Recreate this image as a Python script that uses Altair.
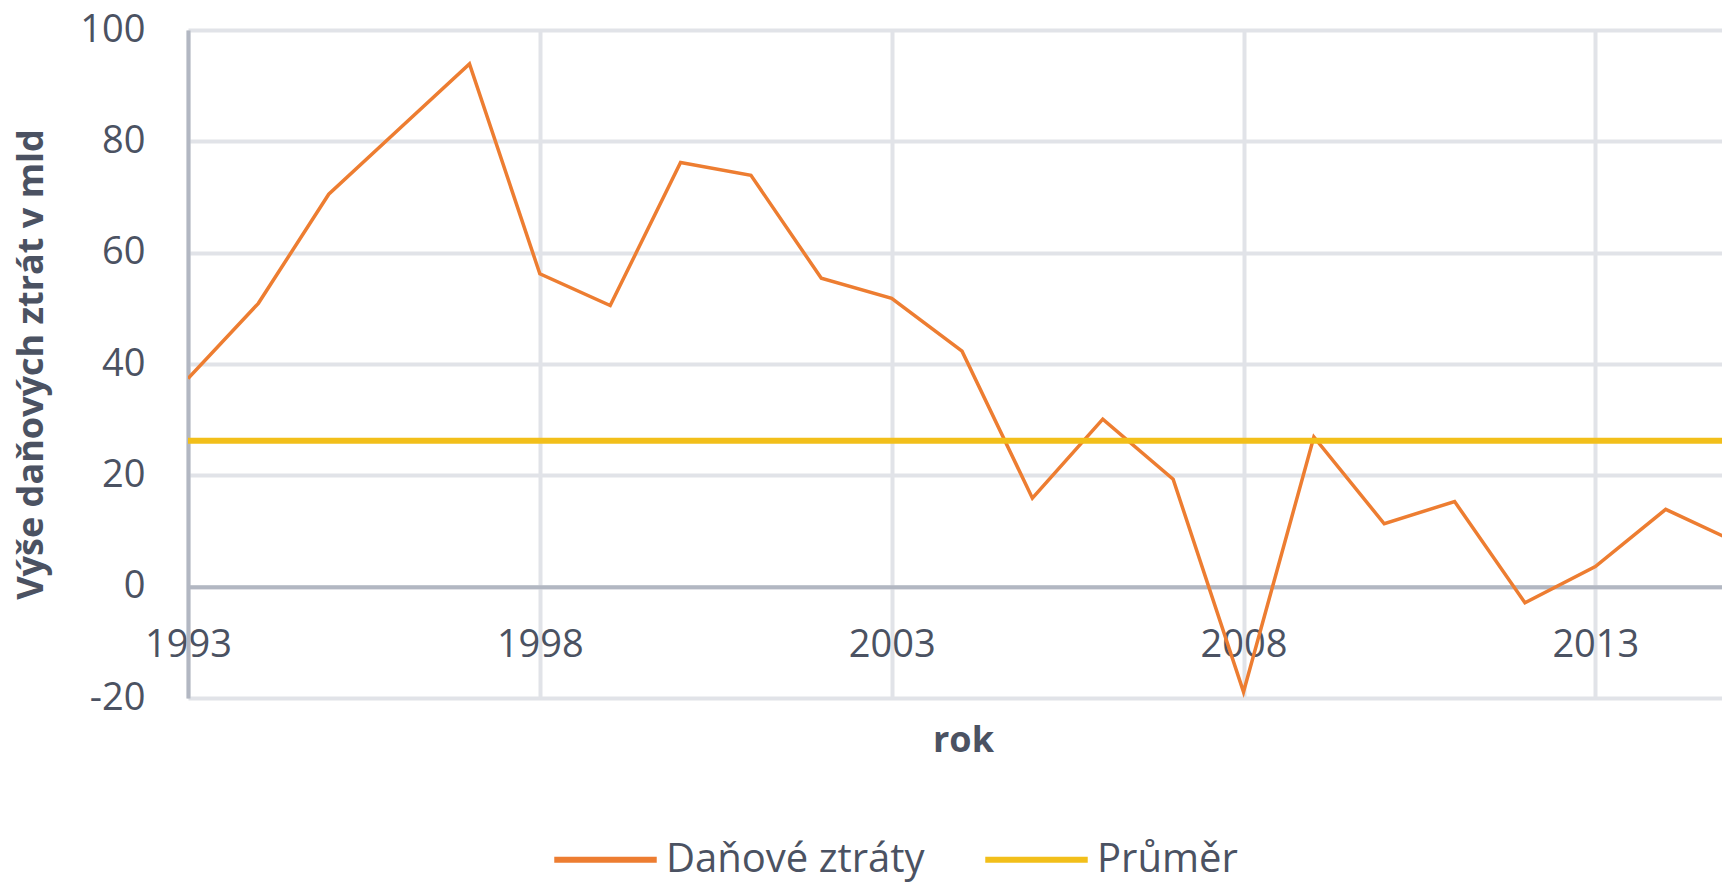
import altair as alt
import pandas as pd

years = list(range(1993, 2016))
losses = [37.4, 50.9, 70.5, 82.2, 93.9, 56.2, 50.5, 76.2, 73.9, 55.4, 51.8, 42.3,
          15.9, 30.1, 19.3, -18.9, 26.9, 11.3, 15.3, -2.9, 3.6, 13.9, 8.0]
average = [26.2]
series_names = ["Daňové ztráty", "Průměr"]
series_colors = ["#ED7D31", "#F2BF1A"]
x_ticks = [1993, 1998, 2003, 2008, 2013]
y_ticks = [-20, 0, 20, 40, 60, 80, 100]

W, H = 1534, 668
TEXT = "#4B5262"
GRID = "#E1E3E8"
AXIS = "#B2B7C2"
FONT = "Open Sans"

df_line = pd.DataFrame({"rok": years, "value": losses, "series": series_names[0]})
df_avg = pd.DataFrame({"value": average, "series": [series_names[1]]})

color = alt.Color(
    "series:N",
    scale=alt.Scale(domain=series_names, range=series_colors),
    legend=alt.Legend(
        title=None, orient="none", direction="horizontal",
        legendX=363, legendY=775, padding=0,
        symbolType="stroke", symbolSize=10500, symbolStrokeWidth=6,
        labelFontSize=40, labelFont=FONT, labelColor=TEXT, labelOffset=6,
        labelLimit=0, columnPadding=48,
    ),
)

x_enc = alt.X(
    "rok:Q",
    scale=alt.Scale(domain=[1993, 2014.8], nice=False, zero=False),
    axis=alt.Axis(
        title="rok", values=x_ticks, format="d", offset=-H / 6,
        grid=True, gridColor=GRID, gridWidth=4,
        ticks=False, domain=True, domainColor=AXIS, domainWidth=4,
        labelFontSize=38, labelFont=FONT, labelColor=TEXT, labelPadding=40,
        labelFlush=False, labelOverlap=False,
        titleFontSize=36, titleFont=FONT, titleFontWeight="bold", titleColor=TEXT,
        titleX=775, titleY=165, titleBaseline="alphabetic", titleAnchor="middle",
    ),
)

y_enc = alt.Y(
    "value:Q",
    scale=alt.Scale(domain=[-20, 100], nice=False),
    axis=alt.Axis(
        title="Výše daňových ztrát v mld", values=y_ticks,
        labelExpr="'' + datum.value",
        grid=True, gridColor=GRID, gridWidth=4,
        ticks=False, domain=True, domainColor=AXIS, domainWidth=4,
        labelFontSize=38, labelFont=FONT, labelColor=TEXT, labelPadding=43,
        titleFontSize=36, titleFont=FONT, titleFontWeight="bold", titleColor=TEXT,
        titleX=-157, titleY=334, titleBaseline="middle", titleAngle=270,
    ),
)

line = alt.Chart(df_line).mark_line(strokeWidth=3.5, clip=True).encode(
    x=x_enc, y=y_enc, color=color
)

avg = alt.Chart(df_avg).mark_rule(strokeWidth=6).encode(
    y=alt.Y("value:Q"), color=color
)

chart = alt.layer(line, avg).properties(
    width=W, height=H,
    autosize=alt.AutoSizeParams(type="none"),
    padding={"left": 180, "top": 22, "right": 0, "bottom": 188},
).configure_view(stroke=None).configure(background="white")

chart.save("out.html", embed_options={"renderer": "svg", "actions": False})
